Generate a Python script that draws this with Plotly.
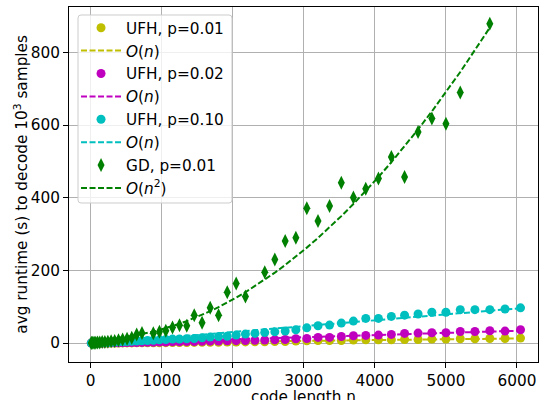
import plotly.graph_objects as go
import numpy as np

# code lengths (n = 2 L^2 values)
n_ufh = [8, 18, 32, 50, 72, 98, 128, 162, 200, 242, 288, 338, 392, 450, 512, 578, 648, 722, 800,
         882, 968, 1058, 1152, 1250, 1352, 1458, 1568, 1682, 1800, 1922, 2048, 2178, 2312, 2450,
         2592, 2738, 2888, 3042, 3200, 3362, 3528, 3698, 3872, 4050, 4232, 4418, 4608, 4802, 5000,
         5202, 5408, 5618, 5832, 6050]

ufh_p001 = [0.01, 0.02, 0.03, 0.05, 0.07, 0.1, 0.13, 0.16, 0.2, 0.25, 0.3, 0.35, 0.4, 0.47, 0.55,
            0.62, 0.7, 0.8, 0.9, 1.0, 1.1, 1.25, 1.4, 1.55, 1.7, 1.9, 2.1, 2.3, 2.5, 2.7, 2.9, 3.2,
            3.5, 3.8, 4.1, 4.5, 5.5, 6.4, 7.3, 7.3, 7.3, 8.3, 9.2, 9.2, 9.2, 10.0, 10.0, 11.0, 11.0,
            12.0, 12.0, 12.8, 12.8, 13.8]

ufh_p002 = [0.02, 0.04, 0.07, 0.1, 0.15, 0.2, 0.3, 0.4, 0.5, 0.6, 0.7, 0.9, 1.0, 1.2, 1.4, 1.6,
            1.8, 2.0, 2.3, 2.5, 2.8, 3.1, 3.4, 3.8, 4.1, 4.5, 4.9, 5.3, 5.8, 6.3, 6.8, 7.3, 7.9,
            8.5, 9.1, 9.8, 11.9, 12.8, 15.6, 15.6, 18.3, 20.2, 21.1, 22.0, 23.9, 26.6, 27.5, 28.4,
            28.4, 32.0, 32.0, 33.9, 33.0, 36.7]

ufh_p010 = [0.05, 0.1, 0.2, 0.3, 0.5, 0.7, 0.9, 1.2, 1.5, 1.9, 2.3, 2.8, 3.3, 3.9, 4.5, 5.1,
            5.8, 6.5, 7.2, 8.0, 9.0, 10.0, 11.0, 11.0, 12.0, 12.8, 14.7, 16.5, 18.0, 19.0, 22.0,
            24.8, 26.6, 29.0, 31.0, 33.0, 36.7, 42.0, 47.7, 49.5, 55.0, 60.6, 67.9, 67.9, 73.4,
            77.0, 80.0, 85.0, 85.0, 92.0, 92.0, 92.0, 94.0, 97.0]

n_gd = [8, 18, 32, 50, 72, 98, 128, 162, 200, 242, 288, 338, 392, 450, 512, 578, 648, 722, 882,
        968, 1058, 1152, 1250, 1352, 1458, 1568, 1682, 1800, 1922, 2048, 2178, 2450, 2592, 2738,
        2888, 3042, 3200, 3362, 3528, 3698, 3872, 4050, 4232, 4418, 4608, 4802, 5000, 5202, 5618]

gd_p001 = [0.5, 0.7, 0.9, 1.0, 1.2, 1.5, 2.0, 3.0, 3.0, 4.0, 5.0, 6.0, 8.0, 10.0, 12.0, 15.0,
           24.0, 28.0, 27.0, 31.0, 34.0, 43.0, 49.0, 48.0, 77.0, 56.0, 97.0, 77.0, 140.0, 164.0,
           128.0, 195.0, 230.0, 281.0, 290.0, 371.0, 336.0, 377.0, 441.0, 401.0, 425.0, 453.0,
           512.0, 457.0, 581.0, 618.0, 604.0, 690.0, 879.0]

# fitted-curve coefficients (highest power first)
fit_p001 = [0.0022, -0.5]
fit_p002 = [0.0058, -1.0]
fit_p010 = [0.0162, -2.0]
fit_gd = [2.705e-5, 0.0008, 10.0]

x_ticks = [0, 1000, 2000, 3000, 4000, 5000, 6000]
y_ticks = [0, 200, 400, 600, 800]
x_title = "code length n"
y_title = "avg runtime (s) to decode 10<sup>3</sup> samples"

Y = "#bfbf00"
M = "#bf00bf"
C = "#00bfbf"
G = "#008000"
FONT = "DejaVu Sans"
FS = 15.3
DASH = "6px,2.5px"

fig = go.Figure()
series = [
    ("UFH, p=0.01", n_ufh, ufh_p001, fit_p001, Y, "circle"),
    ("UFH, p=0.02", n_ufh, ufh_p002, fit_p002, M, "circle"),
    ("UFH, p=0.10", n_ufh, ufh_p010, fit_p010, C, "circle"),
    ("GD, p=0.01", n_gd, gd_p001, fit_gd, G, "diamond-tall"),
]
fit_names = ["<i>O</i>(<i>n</i>)", "<i>O</i>(<i>n</i>)", "<i>O</i>(<i>n</i>)",
             "<i>O</i>(<i>n</i><sup>2</sup>)"]
k = 0
for (name, xs, ys, coef, col, sym), fname in zip(series, fit_names):
    xs_a = np.array(xs, dtype=float)
    fig.add_trace(go.Scatter(
        x=xs, y=ys, mode="markers", name=name, legendgroup=f"g{k}",
        marker=dict(color=col, symbol=sym, size=9 if sym == "circle" else 10,
                    line=dict(width=0)),
    ))
    k += 1
    fig.add_trace(go.Scatter(
        x=xs_a, y=np.polyval(coef, xs_a), mode="lines", name=fname, legendgroup=f"g{k}",
        line=dict(color=col, width=2, dash=DASH),
    ))
    k += 1

axis_common = dict(
    showline=True, linecolor="black", linewidth=1, mirror=True,
    ticks="outside", ticklen=5, tickwidth=1, tickcolor="black",
    showgrid=True, gridcolor="#b0b0b0", gridwidth=1, zeroline=False,
    tickfont=dict(family=FONT, size=FS, color="black"), automargin=False,
)

# legend frame (rounded box like matplotlib's), in paper coordinates
x0, x1, y0, y1 = 0.0192, 0.3475, 0.4479, 0.9775
rx, ry = 0.0064, 0.0085
frame_path = (f"M {x0+rx},{y0} L {x1-rx},{y0} Q {x1},{y0} {x1},{y0+ry} "
              f"L {x1},{y1-ry} Q {x1},{y1} {x1-rx},{y1} L {x0+rx},{y1} "
              f"Q {x0},{y1} {x0},{y1-ry} L {x0},{y0+ry} Q {x0},{y0} {x0+rx},{y0} Z")
fig.add_shape(type="path", path=frame_path, xref="paper", yref="paper", layer="above",
              fillcolor="rgba(255,255,255,0.8)", line=dict(color="#cccccc", width=1))

fig.add_annotation(text=x_title, xref="paper", yref="paper", x=0.5, y=-0.099,
                   xanchor="center", yanchor="middle", showarrow=False,
                   font=dict(family=FONT, size=FS, color="black"))
fig.add_annotation(text=y_title, xref="paper", yref="paper", x=-0.104, y=0.5,
                   xanchor="center", yanchor="middle", showarrow=False, textangle=-90,
                   font=dict(family=FONT, size=FS, color="black"))

fig.update_layout(
    width=539, height=400,
    margin=dict(l=69, r=1, t=7, b=38),
    paper_bgcolor="white", plot_bgcolor="white",
    font=dict(family=FONT, size=FS, color="black"),
    showlegend=True,
    legend=dict(
        x=0.015, y=0.988, xanchor="left", yanchor="top",
        bgcolor="rgba(0,0,0,0)", borderwidth=0,
        font=dict(family=FONT, size=FS, color="black"),
        tracegroupgap=0, traceorder="grouped", itemwidth=40,
    ),
    xaxis=dict(range=[-305, 6296], tickvals=x_ticks, **axis_common),
    yaxis=dict(range=[-52, 925], tickvals=y_ticks, **axis_common),
)

fig.write_html("out.html", config={"displayModeBar": False},
               post_script="document.body.style.margin='0px';document.body.style.overflow='hidden';")
